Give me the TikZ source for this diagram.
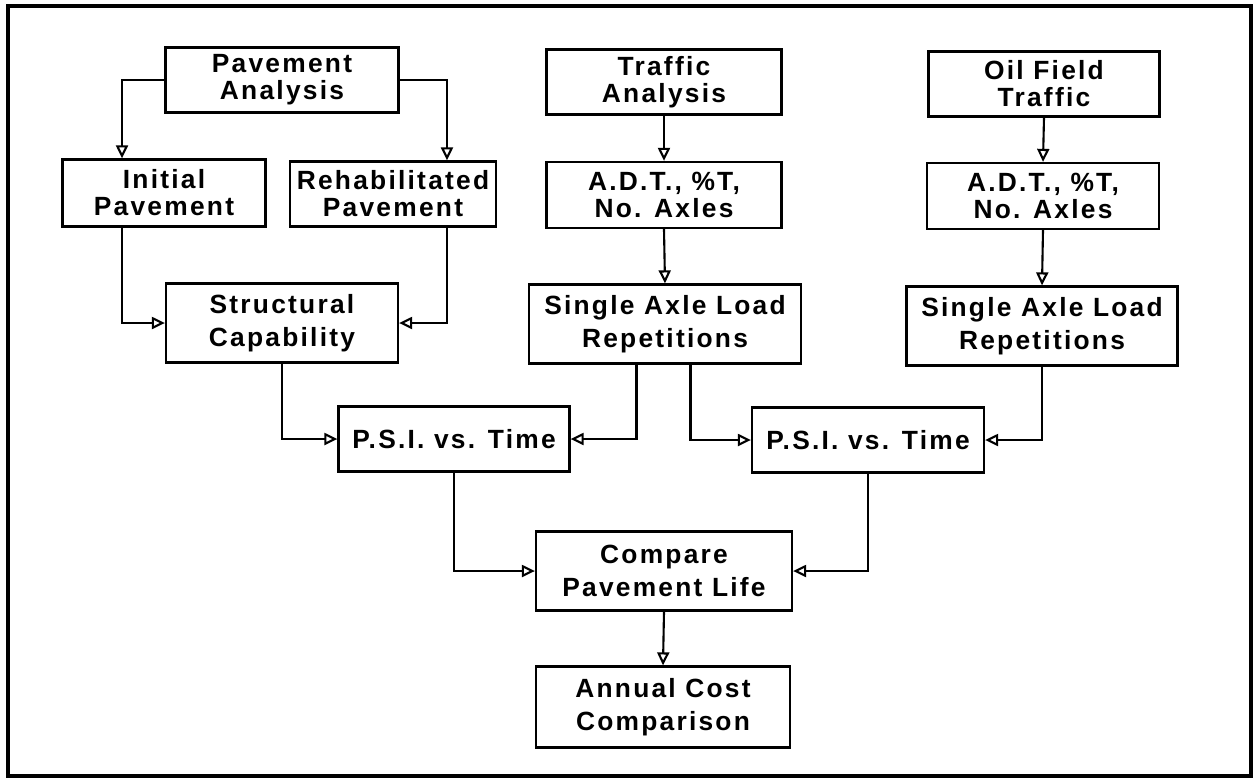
\documentclass[tikz,border=0pt]{standalone}
\usepackage{fontspec}
\newfontfamily\flowfont[LetterSpace=8.5]{Liberation Sans}
\usetikzlibrary{calc,arrows.meta}

\tikzset{
  box/.style={draw, line width=1.3pt, inner sep=0pt, align=center,
    minimum width=4.66cm, minimum height=1.3cm,
    font=\flowfont\bfseries\fontsize{15}{15.4}\selectfont},
  tallbox/.style={box, minimum height=1.58cm,
    font=\flowfont\bfseries\fontsize{15}{18.8}\selectfont},
  conn/.style={line width=1.2pt, -{Triangle[open, length=2.6mm, width=2.4mm]}}
}

\begin{document}
\begin{tikzpicture}[x=0.02cm, y=-0.02cm]
      \useasboundingbox (0,0) rectangle (1259,778);
      \draw [line width=2pt] (8,6) rectangle (1251,776);

      \node [box] (pa) at (282, 80) {Pavement\\Analysis};
      \node [box, minimum width=4.7cm] (ta) at (664, 82) {Traffic\\Analysis};
      \node [box, minimum width=4.62cm] (of) at (1044, 84) {Oil Field\\Traffic};

      \node [box, minimum width=4.06cm, minimum height=1.34cm] (ip) at (164, 193) {Initial\\Pavement};
      \node [box, minimum width=4.12cm] (rp) at (393, 194) {Rehabilitated\\Pavement};
      \node [box, minimum width=4.7cm, minimum height=1.32cm] (td) at (664, 195) {A.D.T., \%T,\\No. Axles};
      \node [box, minimum width=4.64cm, minimum height=1.32cm] (od) at (1043, 196) {A.D.T., \%T,\\No. Axles};

      \node [tallbox, minimum width=4.64cm] (sc) at (282, 323) {Structural\\Capability};
      \node [tallbox, minimum width=5.44cm] (sa) at (665, 324) {Single Axle Load\\Repetitions};
      \node [tallbox, minimum width=5.42cm] (so) at (1042, 326) {Single Axle Load\\Repetitions};

      \node [box, minimum width=4.62cm] (p1) at (454, 439) {P.S.I. vs. Time};
      \node [box, minimum width=4.64cm] (p2) at (868, 440) {P.S.I. vs. Time};

      \node [tallbox, minimum width=5.12cm] (cp) at (664, 571) {Compare\\Pavement Life};
      \node [tallbox, minimum width=5.08cm, minimum height=1.62cm] (ac) at (663, 707) {Annual Cost\\Comparison};

      \draw [conn] (pa.west) -| ([xshift=-0.84cm]ip.north);
      \draw [conn] (pa.east) -| ([xshift=1.08cm]rp.north);
      \draw [conn] ([xshift=-0.84cm]ip.south) |- (sc.west);
      \draw [conn] ([xshift=1.08cm]rp.south) |- (sc.east);

      \foreach \a/\b in {ta/td, td/sa, of/od, od/so, cp/ac}
               {
                 \draw [conn] (\a.south) -- (\b.north);
               }

      \draw [conn] (sc.south) |- (p1.west);
      \draw [conn] ([xshift=-0.57cm]sa.south) |- (p1.east);
      \draw [conn] ([xshift=0.51cm]sa.south) |- (p2.west);
      \draw [conn] (so.south) |- (p2.east);
      \draw [conn] (p1.south) |- (cp.west);
      \draw [conn] (p2.south) |- (cp.east);
\end{tikzpicture}
\end{document}
